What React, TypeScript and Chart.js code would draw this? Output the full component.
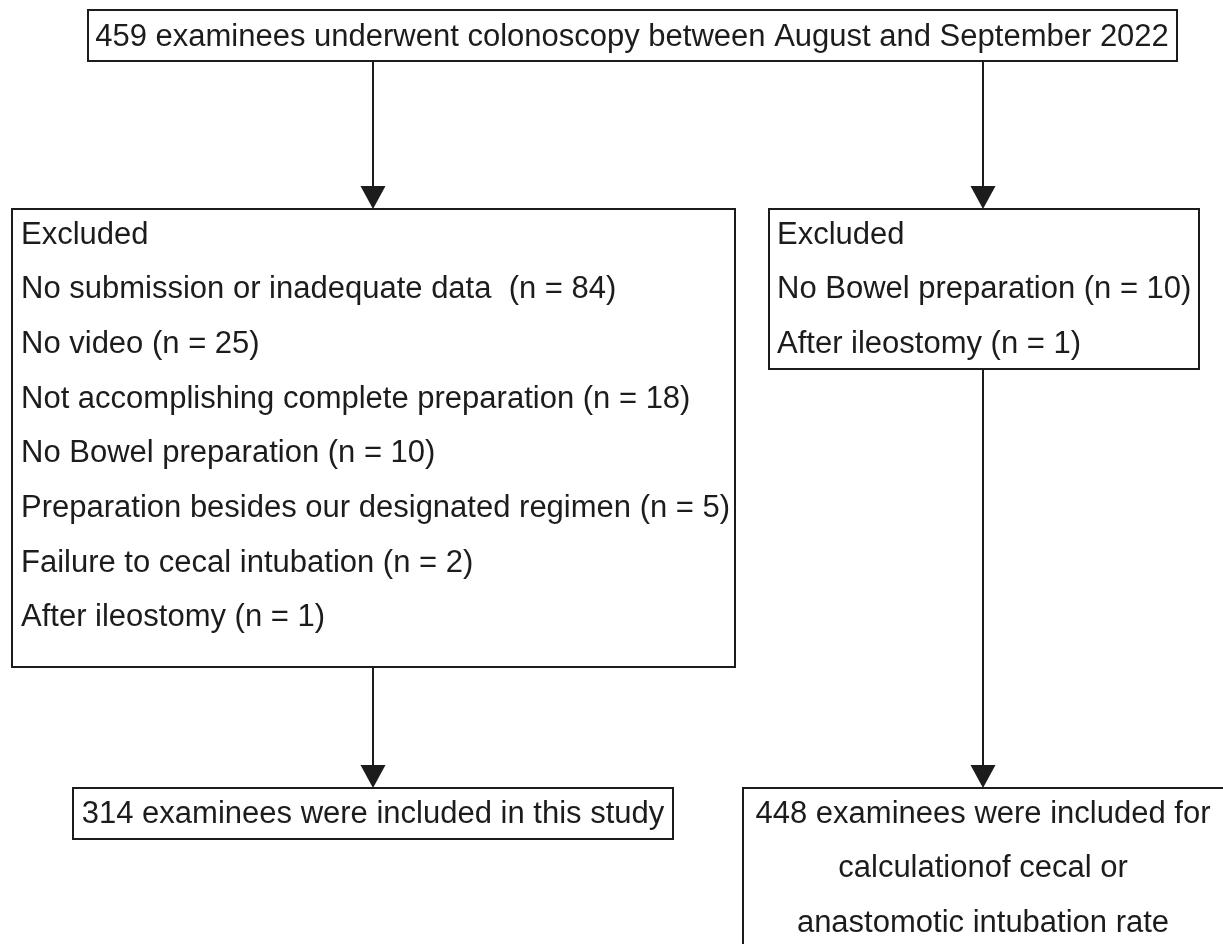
import React, { useEffect, useRef } from "react";
import { Chart, registerables } from "chart.js";

Chart.register(...registerables);

// ---- content ----
const topLines = ["459 examinees underwent colonoscopy between August and September 2022"];
const leftExcludedLines = [
  "Excluded",
  "No submission or inadequate data  (n = 84)",
  "No video (n = 25)",
  "Not accomplishing complete preparation (n = 18)",
  "No Bowel preparation (n = 10)",
  "Preparation besides our designated regimen (n = 5)",
  "Failure to cecal intubation (n = 2)",
  "After ileostomy (n = 1)",
];
const rightExcludedLines = ["Excluded", "No Bowel preparation (n = 10)", "After ileostomy (n = 1)"];
const leftIncludedLines = ["314 examinees were included in this study"];
const rightIncludedLines = [
  "448 examinees were included for",
  "calculationof cecal or",
  "anastomotic intubation rate",
];

// ---- layout (in chart units; the scales map 1 unit = 1 px) ----
const W = 1223;
const H = 944;
const LINE_GAP = 54.7;
type Box = { x0: number; y0: number; x1: number; y1: number; lines: string[]; align: "left" | "center"; tx: number; ty: number };
const boxes: Box[] = [
  { x0: 88, y0: 10, x1: 1177, y1: 61, lines: topLines, align: "center", tx: 632, ty: 45.5 },
  { x0: 12, y0: 209, x1: 735, y1: 667, lines: leftExcludedLines, align: "left", tx: 21, ty: 243.5 },
  { x0: 769, y0: 209, x1: 1199, y1: 369, lines: rightExcludedLines, align: "left", tx: 777, ty: 243.5 },
  { x0: 73, y0: 788, x1: 673, y1: 839, lines: leftIncludedLines, align: "center", tx: 373, ty: 822.5 },
  { x0: 743, y0: 788, x1: 1235, y1: 980, lines: rightIncludedLines, align: "center", tx: 983, ty: 822.5 },
];
const arrowX = [373, 983, 373, 983];
const arrowFrom = [61, 61, 667, 369];
const arrowTo = [209, 209, 788, 788];

const INK = "#1c1c1c";
const FONT = '31px "Liberation Sans", Arial, sans-serif';

const flowPlugin = {
  id: "flow",
  afterDatasetsDraw(chart: any) {
    const { ctx, scales } = chart;
    const sx = (v: number) => scales.x.getPixelForValue(v);
    const sy = (v: number) => scales.y.getPixelForValue(v);
    ctx.save();
    ctx.strokeStyle = INK;
    ctx.fillStyle = INK;
    ctx.lineWidth = 2;
    // boxes + text
    boxes.forEach((b) => {
      ctx.strokeRect(sx(b.x0), sy(b.y0), sx(b.x1) - sx(b.x0), sy(b.y1) - sy(b.y0));
      ctx.font = FONT;
      ctx.textAlign = b.align;
      ctx.textBaseline = "alphabetic";
      b.lines.forEach((t, i) => {
        ctx.fillText(t, sx(b.tx), sy(b.ty + i * LINE_GAP));
      });
    });
    // arrowheads
    arrowX.forEach((x, i) => {
      const px = sx(x);
      const tip = sy(arrowTo[i]);
      ctx.beginPath();
      ctx.moveTo(px, tip);
      ctx.lineTo(px - 12.5, tip - 23);
      ctx.lineTo(px + 12.5, tip - 23);
      ctx.closePath();
      ctx.fill();
    });
    ctx.restore();
  },
};

export default function App() {
  const ref = useRef<HTMLCanvasElement | null>(null);
  useEffect(() => {
    if (!ref.current) return;
    const datasets = arrowX.map((x, i) => ({
      type: "line" as const,
      data: [
        { x, y: arrowFrom[i] },
        { x, y: arrowTo[i] - 20 },
      ],
      borderColor: INK,
      borderWidth: 2,
      pointRadius: 0,
      showLine: true,
    }));
    const chart = new Chart(ref.current, {
      type: "scatter",
      data: { datasets },
      options: {
        animation: false,
        responsive: false,
        devicePixelRatio: 1,
        layout: { padding: 0 },
        events: [],
        plugins: { legend: { display: false }, tooltip: { enabled: false } },
        scales: {
          x: { type: "linear", min: 0, max: W, display: false },
          y: { type: "linear", min: 0, max: H, reverse: true, display: false },
        },
      },
      plugins: [flowPlugin],
    });
    return () => chart.destroy();
  }, []);
  return (
    <div style={{ position: "absolute", left: 0, top: 0, width: W, height: H, background: "#fff" }}>
      <canvas ref={ref} width={W} height={H} />
    </div>
  );
}
